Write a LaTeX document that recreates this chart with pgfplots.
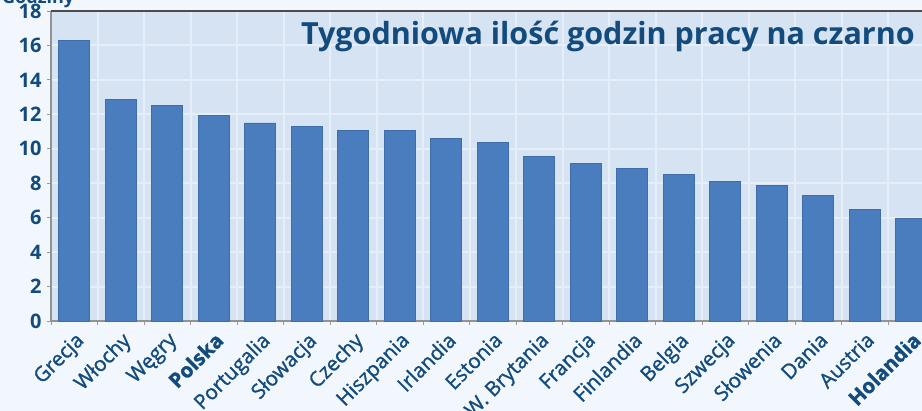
\documentclass[border=0pt]{standalone}
\usepackage{fontspec}
\setmainfont{Open Sans}
\newfontfamily\semib[FakeBold=1.2]{Open Sans}
\usepackage{pgfplots}
\pgfplotsset{compat=1.18}
\definecolor{txt}{HTML}{134B7C}
\definecolor{pagebg}{HTML}{F1F7FD}
\definecolor{plotbg}{HTML}{D5E3F2}
\definecolor{gridc}{HTML}{E6EFF9}
\definecolor{barc}{HTML}{4A7DBE}
\definecolor{baredge}{HTML}{3E6DAA}
\begin{document}
\begin{tikzpicture}[x=1pt,y=1pt]
\useasboundingbox (0,0) rectangle (922,411);
\fill[pagebg] (0,0) rectangle (922,411);
\begin{axis}[
  at={(51pt,90pt)}, anchor=south west,
  scale only axis, width=871pt, height=310pt,
  xmin=-0.5, xmax=18.23, ymin=0, ymax=18,
  clip=false,
  axis background/.style={fill=plotbg},
  axis lines=left, axis line style={-, draw=gray!85, line width=1.2pt},
  ytick={0,2,...,18},
  xtick={0,...,18},
  xticklabels={Grecja,Włochy,Węgry,\textbf{Polska},Portugalia,Słowacja,Czechy,Hiszpania,Irlandia,Estonia,W. Brytania,Francja,Finlandia,Belgia,Szwecja,Słowenia,Dania,Austria,\textbf{Holandia}},
  minor xtick={-0.5,0.5,...,18.5},
  major x tick style={draw=none},
  minor x tick style={draw=gray!80, line width=0.8pt},
  y tick style={draw=gray!80, line width=0.8pt},
  tick align=outside, major tick length=4pt, minor tick length=4pt,
  ymajorgrids, xminorgrids,
  grid style={draw=gridc, line width=2pt},
  minor grid style={draw=gridc, line width=2pt},
  /pgf/number format/assume math mode=true,
  y tick label style={font=\fontsize{20}{22}\selectfont\bfseries, text=txt, xshift=-2pt},
  x tick label style={rotate=45, anchor=north east, font=\fontsize{20.5}{22}\selectfont\semib, text=txt, inner sep=1pt, yshift=-3pt, xshift=-3pt},
  ybar, bar width=31pt,
]
\addplot[fill=barc, draw=baredge, line width=0.8pt] coordinates {
(0,16.3) (1,12.85) (2,12.5) (3,11.95) (4,11.5) (5,11.3) (6,11.05) (7,11.05) (8,10.6) (9,10.35) (10,9.55) (11,9.15) (12,8.85) (13,8.5) (14,8.1) (15,7.85) (16,7.3) (17,6.5) (18,5.95)
};
\draw[draw=black!70, line width=1.5pt] (rel axis cs:0,1) -- (rel axis cs:1.02,1);
\end{axis}
\node[anchor=base east, text=txt, font=\fontsize{30.5}{32}\selectfont\bfseries, inner sep=0pt] at (915,366) {Tygodniowa ilość godzin pracy na czarno};
\node[anchor=base west, text=txt, font=\fontsize{18}{20}\selectfont\bfseries, inner sep=0pt] at (2,407) {Godziny};
\end{tikzpicture}
\end{document}
